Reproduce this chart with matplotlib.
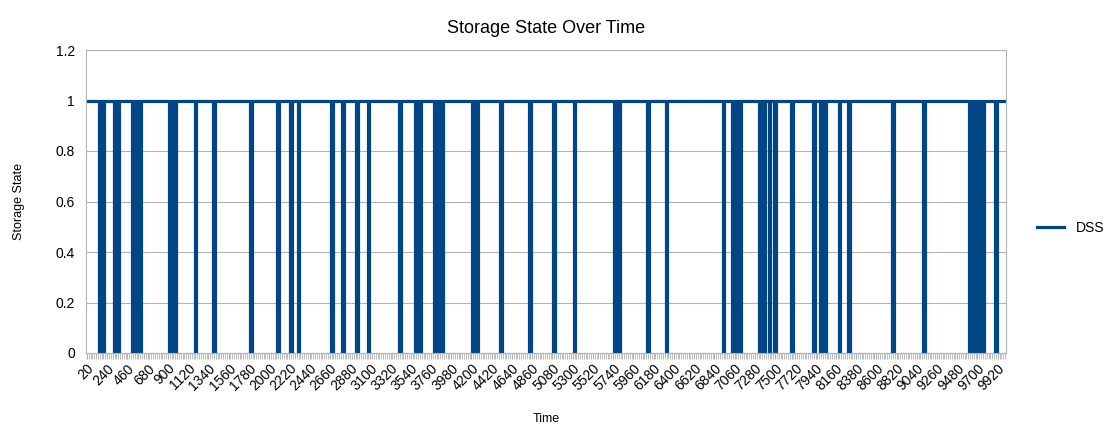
import matplotlib
matplotlib.use("Agg")
import matplotlib.pyplot as plt
import numpy as np

plt.rcParams['font.family'] = ['Liberation Sans', 'DejaVu Sans']

times = list(range(20, 10001, 20))
zero_idx = [7, 9, 15, 17, 25, 27, 29, 45, 48, 59, 69, 89, 104, 111, 115, 133, 139, 147, 153,
            170, 179, 181, 189, 191, 193, 210, 212, 225, 241, 254, 265, 287, 289, 305, 315,
            346, 351, 353, 355, 366, 368, 371, 374, 383, 395, 399, 401, 409, 414, 438, 455,
            480, 482, 485, 487, 494]
dss = [0 if i in zero_idx else 1 for i in range(len(times))]

fig = plt.figure(figsize=(11.06, 4.43), dpi=100)
ax = fig.add_axes([86/1106, 1-353/443, 920/1106, 303/443])
x = np.arange(len(times))
ax.plot(x, dss, color="#004586", lw=2.3, label="DSS", drawstyle="steps-mid")
ax.set_xlim(-0.5, len(times)-0.5)
ax.set_ylim(0, 1.2)
ax.set_yticks([0, 0.2, 0.4, 0.6, 0.8, 1.0, 1.2])
ax.set_yticklabels(["0", "0.2", "0.4", "0.6", "0.8", "1", "1.2"], fontsize=10)
ax.yaxis.grid(True, color="#b3b3b3", lw=0.8)
ax.set_axisbelow(True)
ax.tick_params(axis="y", length=0, pad=8)
ticks = x[::11]
ax.set_xticks(ticks)
ax.set_xticklabels([str(times[i]) for i in ticks], rotation=45, ha="right", rotation_mode="anchor", fontsize=10)
ax.set_xticks(x, minor=True)
ax.tick_params(axis="x", which="both", length=4, color="#b3b3b3", pad=2)
for s in ["top", "right", "left", "bottom"]:
    ax.spines[s].set_color("#b3b3b3")
ax.set_title("Storage State Over Time", fontsize=13, pad=12)
ax.set_xlabel("Time", fontsize=9, labelpad=14)
ax.set_ylabel("Storage State", fontsize=9, labelpad=22)
fig.legend(loc="center left", bbox_to_anchor=(1024/1106, 1-228/443), frameon=False, fontsize=10,
           handlelength=2.0)
fig.savefig("out.png")
